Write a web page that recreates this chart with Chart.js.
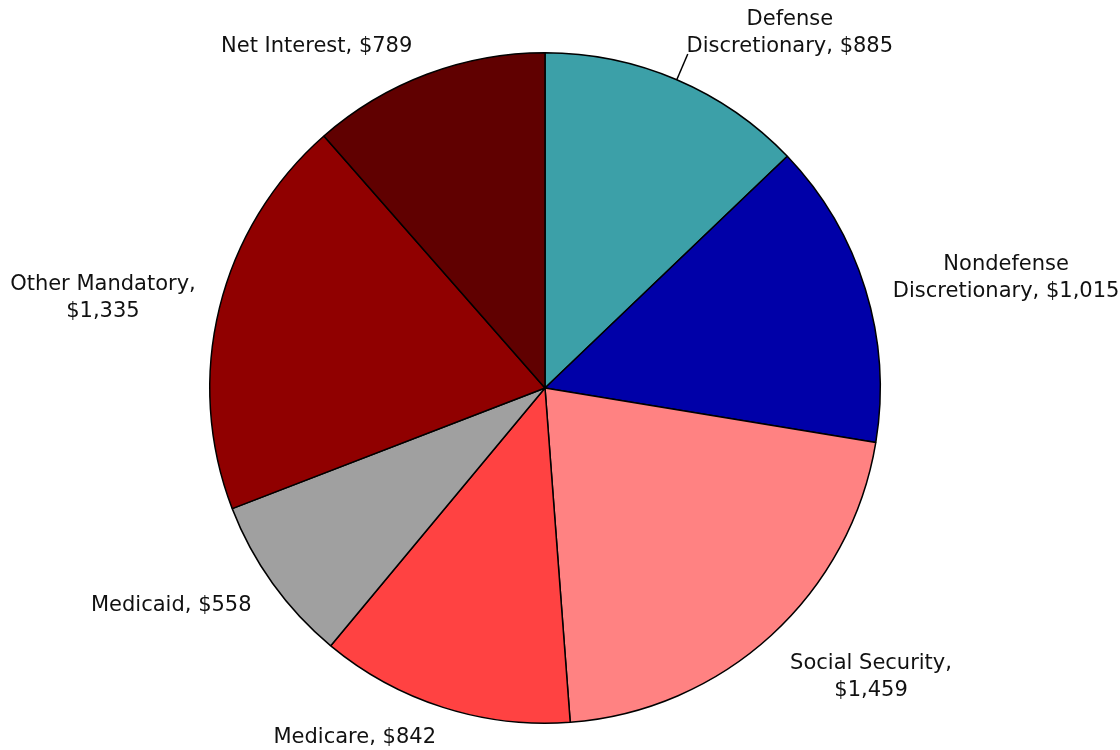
<!DOCTYPE html>
<html>
<head>
<meta charset="utf-8">
<script src="https://cdn.jsdelivr.net/npm/chart.js@4.4.1/dist/chart.umd.min.js"></script>
<style>
    html, body { margin: 0; padding: 0; background: #fff; }
    #wrap { width: 1120px; height: 750px; }
</style>
</head>
<body>
<div id="wrap"><canvas id="pieChart"></canvas></div>
<script>
// Outlays, billions of dollars
const categories = ['Defense Discretionary', 'Nondefense Discretionary', 'Social Security', 'Medicare', 'Medicaid', 'Other Mandatory', 'Net Interest'];
const values = [885, 1015, 1459, 842, 558, 1335, 789];
const colors = ['#3CA0A8', '#0000A8', '#FF8282', '#FF4242', '#A0A0A0', '#900000', '#600000'];
// How each label is broken into lines
const labelLines = [
    ['Defense', 'Discretionary, $885'],
    ['Nondefense', 'Discretionary, $1,015'],
    ['Social Security,', '$1,459'],
    ['Medicare, $842'],
    ['Medicaid, $558'],
    ['Other Mandatory,', '$1,335'],
    ['Net Interest, $789']
];
// Small hand tweaks of label placement, in px
const labelNudge = [[-2, 8], [18, -8], [12, 7], [-4, 7], [-13, 3], [-14, -7], [-11, -5]];

const FONT = '21px "DejaVu Sans"';
const LINE_H = 27;

// Draws the outside labels, anchored at each slice's mid angle
const outsideLabels = {
    id: 'outsideLabels',
    afterDatasetsDraw(chart) {
        const ctx = chart.ctx;
        const arcs = chart.getDatasetMeta(0).data;
        ctx.save();
        ctx.font = FONT;
        ctx.fillStyle = '#111';
        ctx.textBaseline = 'middle';
        arcs.forEach((arc, i) => {
            const mid = (arc.startAngle + arc.endAngle) / 2;
            const cos = Math.cos(mid), sin = Math.sin(mid);
            const hasLeader = i === 0;
            const gap = hasLeader ? 30 : 10;
            const r = arc.outerRadius;
            if (hasLeader) {
                ctx.strokeStyle = '#000';
                ctx.lineWidth = 1.5;
                ctx.beginPath();
                ctx.moveTo(arc.x + cos * r, arc.y + sin * r);
                ctx.lineTo(arc.x + cos * (r + gap - 2), arc.y + sin * (r + gap - 2));
                ctx.stroke();
            }
            const ax = arc.x + cos * (r + gap) + labelNudge[i][0];
            const ay = arc.y + sin * (r + gap) + labelNudge[i][1];
            const lines = labelLines[i];
            const w = Math.max(...lines.map(l => ctx.measureText(l).width));
            const h = lines.length * LINE_H;
            let cx = ax, top = ay - h / 2;
            if (cos > 0.3) cx = ax + w / 2;
            else if (cos < -0.3) cx = ax - w / 2;
            if (sin < -0.3) top = ay - h;
            else if (sin > 0.3) top = ay;
            ctx.textAlign = 'center';
            lines.forEach((l, k) => ctx.fillText(l, cx, top + LINE_H * (k + 0.5)));
        });
        ctx.restore();
    }
};

document.addEventListener('DOMContentLoaded', () => {
    const pieCtx = document.getElementById('pieChart').getContext('2d');
    new Chart(pieCtx, {
        type: 'pie',
        data: {
            labels: categories,
            datasets: [{
                data: values,
                backgroundColor: colors,
                borderColor: '#000',
                borderWidth: 1.5
            }]
        },
        options: {
            responsive: true,
            maintainAspectRatio: false,
            animation: false,
            layout: {
                padding: { top: 52, bottom: 26, left: 209, right: 239 }
            },
            plugins: {
                legend: { display: false },
                tooltip: { enabled: false }
            }
        },
        plugins: [outsideLabels]
    });
});
</script>
</body>
</html>
